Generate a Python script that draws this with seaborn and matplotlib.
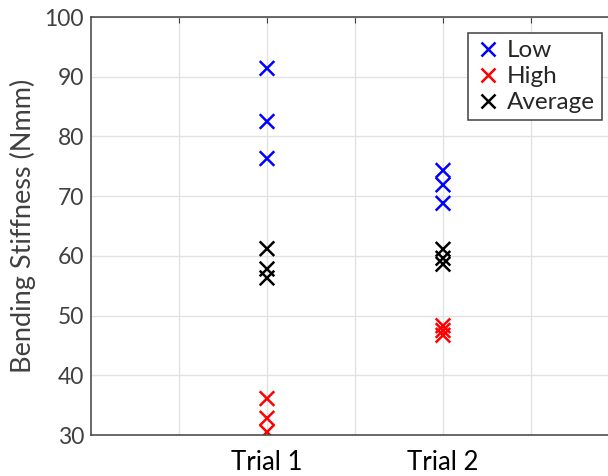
import pandas as pd
import matplotlib
matplotlib.use('Agg')
import matplotlib.pyplot as plt
import seaborn as sns

# values
trials = ['Trial 1', 'Trial 2']
low = [[91.4, 82.5, 76.3], [74.3, 71.9, 68.8]]
high = [[36.1, 32.8, 30.5], [48.3, 47.5, 46.7]]
average = [[61.2, 57.8, 56.3], [61.1, 59.6, 58.6]]

groups = ['Low', 'High', 'Average']
colors = ['#0000ff', '#ff0000', '#000000']

# build long table, trials sit on grid positions 2 and 4
trial_x = {'Trial 1': 2, 'Trial 2': 4}
rows = []
for name, vals in zip(groups, [low, high, average]):
    for t, v in zip(trials, vals):
        for y in v:
            rows.append({'trial': trial_x[t], 'stiffness': y, 'group': name})
df = pd.DataFrame(rows)

sns.set_style('white')
plt.rcParams['font.family'] = ['Lato', 'DejaVu Sans']

fig = plt.figure(figsize=(6.08, 4.76), dpi=100)
# right edge of the axes runs past the image, like the cropped original
ax = fig.add_axes([91 / 608, 41 / 476, 528 / 608, 418 / 476])

sns.scatterplot(data=df, x='trial', y='stiffness', hue='group', hue_order=groups,
                palette=colors, marker='x', s=110, linewidth=1.8, ax=ax, legend=True)

ax.set_xlim(0, 6)
ax.set_ylim(30, 100)
ax.set_xticks([1, 2, 3, 4, 5])
ax.set_xticklabels(['', 'Trial 1', '', 'Trial 2', ''], fontsize=18.5, color='black')
ax.set_yticks(range(30, 101, 10))
ax.tick_params(axis='y', labelsize=16.5, labelcolor='#404040', pad=5)
ax.tick_params(axis='x', pad=11)
ax.tick_params(direction='in', length=4, color='#404040', top=True, right=False)
ax.set_xlabel('')
ax.set_ylabel('Bending Stiffness (Nmm)', fontsize=19.5, color='#404040', labelpad=6)

ax.grid(True, color='#e2e2e2', linewidth=1)
for side in ['left', 'bottom', 'top', 'right']:
    ax.spines[side].set_color('#404040')
    ax.spines[side].set_linewidth(1.1)

leg = ax.legend(loc='upper right', bbox_to_anchor=(602 / 608, 443 / 476),
                bbox_transform=fig.transFigure, borderaxespad=0, fontsize=17.5,
                fancybox=False, framealpha=1, edgecolor='#404040',
                handletextpad=0.2, labelspacing=0.2, borderpad=0.3,
                handlelength=1.1)
leg.get_frame().set_linewidth(1.1)

fig.savefig('out.png', dpi=100)
